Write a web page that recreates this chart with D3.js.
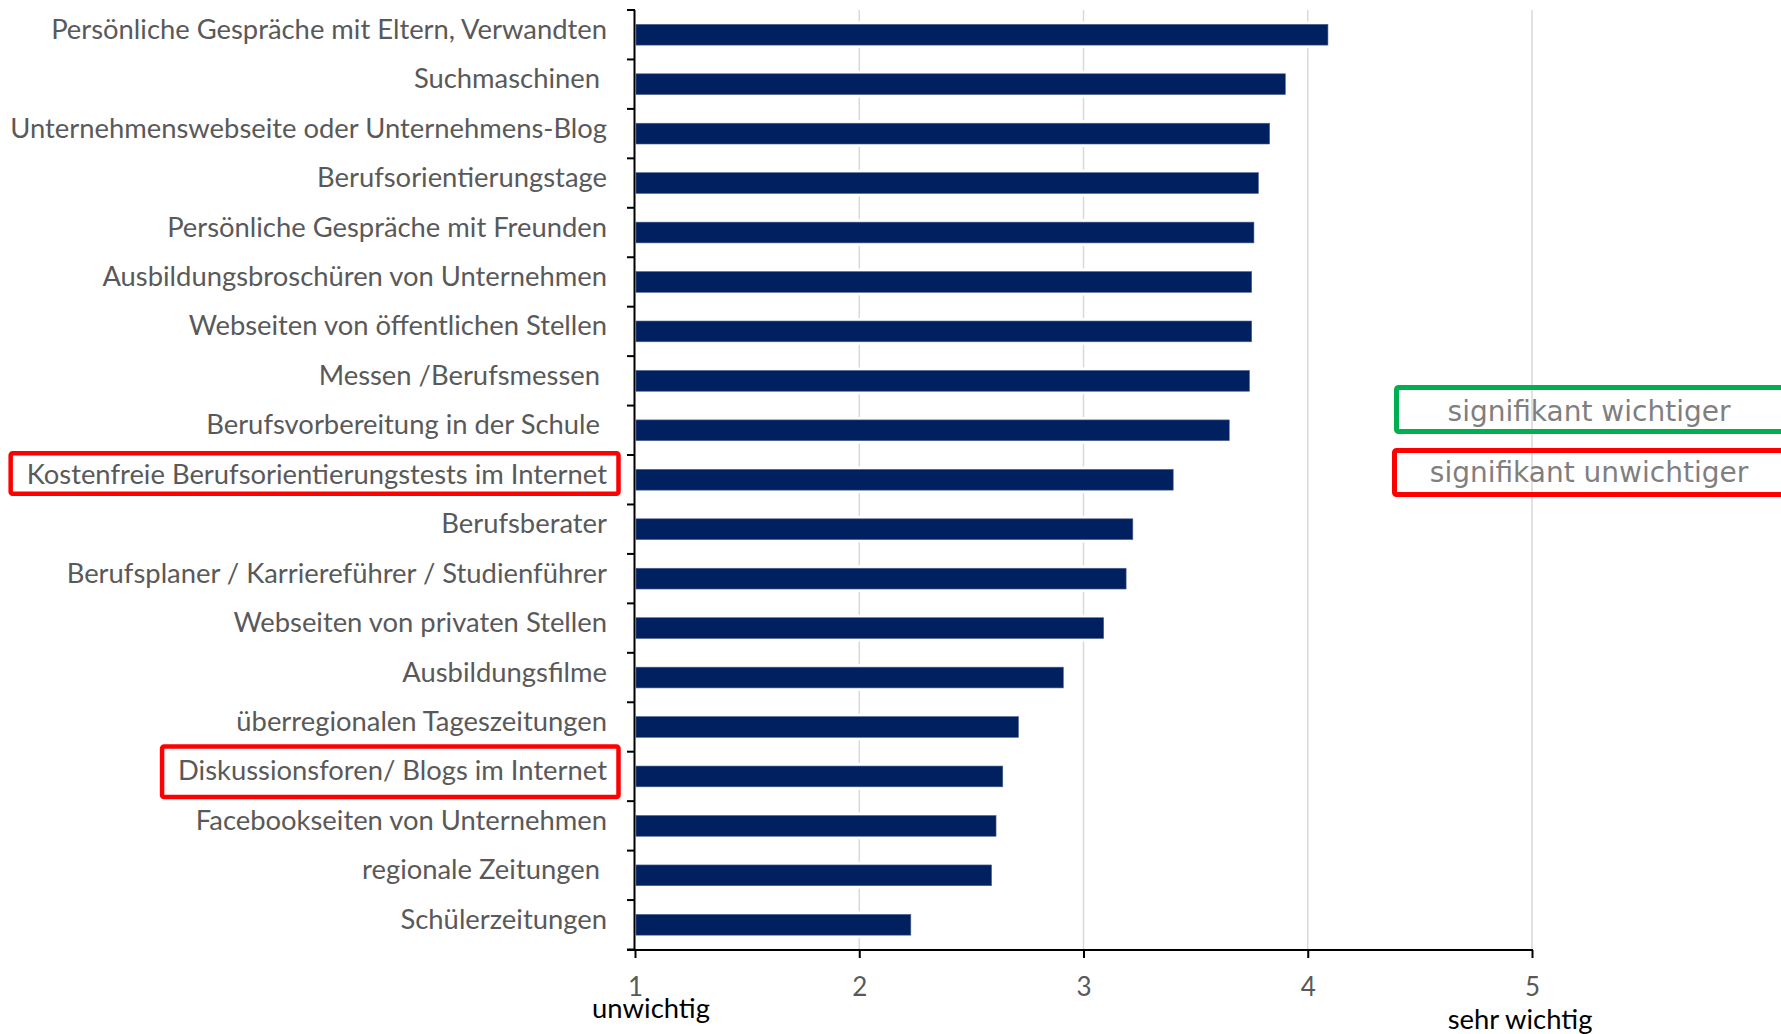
<!DOCTYPE html>
<html><head><meta charset="utf-8">
<script src="https://cdn.jsdelivr.net/npm/d3@7"></script>
<style>html,body{margin:0;padding:0;background:#fff;} svg{display:block;} text{white-space:pre;}</style>
</head><body>
<svg id="chart" width="1781" height="1034"></svg>
<script>
// ---------- data ----------
const categories = [
  "Persönliche Gespräche mit Eltern, Verwandten",
  "Suchmaschinen ",
  "Unternehmenswebseite oder Unternehmens-Blog",
  "Berufsorientierungstage",
  "Persönliche Gespräche mit Freunden",
  "Ausbildungsbroschüren von Unternehmen",
  "Webseiten von öffentlichen Stellen",
  "Messen /Berufsmessen ",
  "Berufsvorbereitung in der Schule ",
  "Kostenfreie Berufsorientierungstests im Internet",
  "Berufsberater",
  "Berufsplaner / Karriereführer / Studienführer",
  "Webseiten von privaten Stellen",
  "Ausbildungsfilme",
  "überregionalen Tageszeitungen",
  "Diskussionsforen/ Blogs im Internet",
  "Facebookseiten von Unternehmen",
  "regionale Zeitungen ",
  "Schülerzeitungen"
];
const values = [4.09, 3.90, 3.83, 3.78, 3.76, 3.75, 3.75, 3.74, 3.65, 3.40, 3.22, 3.19, 3.09, 2.91, 2.71, 2.64, 2.61, 2.59, 2.23];
const xTicks = [1, 2, 3, 4, 5];
const xEndLabels = ["unwichtig", "sehr wichtig"];
const highlighted = ["Kostenfreie Berufsorientierungstests im Internet", "Diskussionsforen/ Blogs im Internet"];
const legendLabels = ["signifikant wichtiger", "signifikant unwichtiger"];

// ---------- layout ----------
const svg = d3.select("#chart");
const FONT = "Lato, 'Liberation Sans', sans-serif";
const LEG_FONT = "'DejaVu Sans', Verdana, sans-serif";
const x = d3.scaleLinear().domain([1, 5]).range([635, 1532]);
const y = d3.scaleBand().domain(categories).range([10, 949.5]).paddingInner(0.58).paddingOuter(0.29);
const bw = y.bandwidth(), step = y.step();
const yTop = 10, yBottom = 950;

// fit font size so the longest label matches reference width
const probe = svg.append("text").attr("font-family", FONT).attr("font-size", 30)
  .text("Unternehmenswebseite oder Unternehmens-Blog");
const fs = 30 * 597 / probe.node().getComputedTextLength();
probe.remove();

// gridlines
svg.append("g").selectAll("line").data(xTicks.slice(1)).join("line")
  .attr("x1", d => x(d)).attr("x2", d => x(d))
  .attr("y1", yTop).attr("y2", yBottom)
  .attr("stroke", "#d9d9d9").attr("stroke-width", 1.5);

// bars (with white halo that interrupts gridlines)
const rows = categories.map((c, i) => ({c, v: values[i]}));
svg.append("g").selectAll("rect").data(rows).join("rect")
  .attr("x", x(1) + 1).attr("y", d => y(d.c) - 3)
  .attr("width", d => x(d.v) - x(1) - 1).attr("height", bw + 6)
  .attr("fill", "#fff");
svg.append("g").selectAll("rect").data(rows).join("rect")
  .attr("x", x(1) + 1).attr("y", d => y(d.c))
  .attr("width", d => x(d.v) - x(1) - 1).attr("height", bw)
  .attr("fill", "#002060").attr("stroke", "#4d6390").attr("stroke-width", 0.6);

// y axis line and boundary ticks
const bounds = categories.map(c => y(c) - (step - bw) / 2);
bounds.push(y(categories[categories.length - 1]) + bw + (step - bw) / 2);
const ya = svg.append("g");
ya.append("line").attr("x1", x(1) - 0.5).attr("x2", x(1) - 0.5).attr("y1", yTop).attr("y2", yBottom + 1)
  .attr("stroke", "#000").attr("stroke-width", 2);
ya.selectAll("line.t").data(bounds).join("line").attr("class", "t")
  .attr("x1", x(1) - 8).attr("x2", x(1)).attr("y1", d => d).attr("y2", d => d)
  .attr("stroke", "#000").attr("stroke-width", 2);

// category labels
const labels = svg.append("g").selectAll("text").data(categories).join("text")
  .attr("x", 607).attr("y", d => y(d) + bw / 2 + 4)
  .attr("text-anchor", "end").attr("font-family", FONT).attr("font-size", fs)
  .attr("fill", "#595959").text(d => d);

// x axis
const xa = svg.append("g").attr("transform", `translate(0,${yBottom})`)
  .call(d3.axisBottom(x).tickValues(xTicks).tickSize(8).tickSizeOuter(0).tickFormat(d3.format("d")));
xa.select(".domain").attr("stroke", "#000").attr("stroke-width", 2).attr("d", `M${x(1) - 8},0H${x(5) + 1}`);
xa.selectAll(".tick line").attr("stroke", "#000").attr("stroke-width", 2);
xa.selectAll(".tick text").attr("y", 46).attr("dy", null)
  .attr("font-family", FONT).attr("font-size", fs * 0.95).attr("fill", "#595959");

// axis end labels
svg.append("text").attr("x", x(1) + 16).attr("y", 1018).attr("text-anchor", "middle")
  .attr("font-family", FONT).attr("font-size", fs).attr("fill", "#000").text(xEndLabels[0]);
svg.append("text").attr("x", x(5) - 12).attr("y", 1029).attr("text-anchor", "middle")
  .attr("font-family", FONT).attr("font-size", fs).attr("fill", "#000").text(xEndLabels[1]);

// highlight boxes around significant labels
const boxPads = [{top: 26.5, bottom: 14}, {top: 30, bottom: 20.5}];
labels.filter(d => highlighted.includes(d)).each(function(d) {
  const bb = this.getBBox();
  const k = highlighted.indexOf(d);
  const cy = y(d) + bw / 2;
  svg.append("rect")
    .attr("x", bb.x - 16).attr("y", cy - boxPads[k].top)
    .attr("width", 618.5 - (bb.x - 16)).attr("height", boxPads[k].top + boxPads[k].bottom)
    .attr("rx", 2).attr("fill", "none").attr("stroke", "#ff0000").attr("stroke-width", 4.5);
});

// legend boxes
const legColors = ["#00b050", "#ff0000"];
const legBoxes = [{x: 1396.5, y: 387.5, base: 421}, {x: 1394.5, y: 450.5, base: 482}];
legendLabels.forEach((t, i) => {
  svg.append("rect").attr("x", legBoxes[i].x).attr("y", legBoxes[i].y)
    .attr("width", 1786 - legBoxes[i].x).attr("height", 44).attr("rx", 2)
    .attr("fill", "none").attr("stroke", legColors[i]).attr("stroke-width", 5);
  svg.append("text").attr("x", 1589).attr("y", legBoxes[i].base).attr("text-anchor", "middle")
    .attr("font-family", LEG_FONT).attr("font-size", 28).attr("fill", "#7f7f7f").text(t);
});
</script>
</body></html>
